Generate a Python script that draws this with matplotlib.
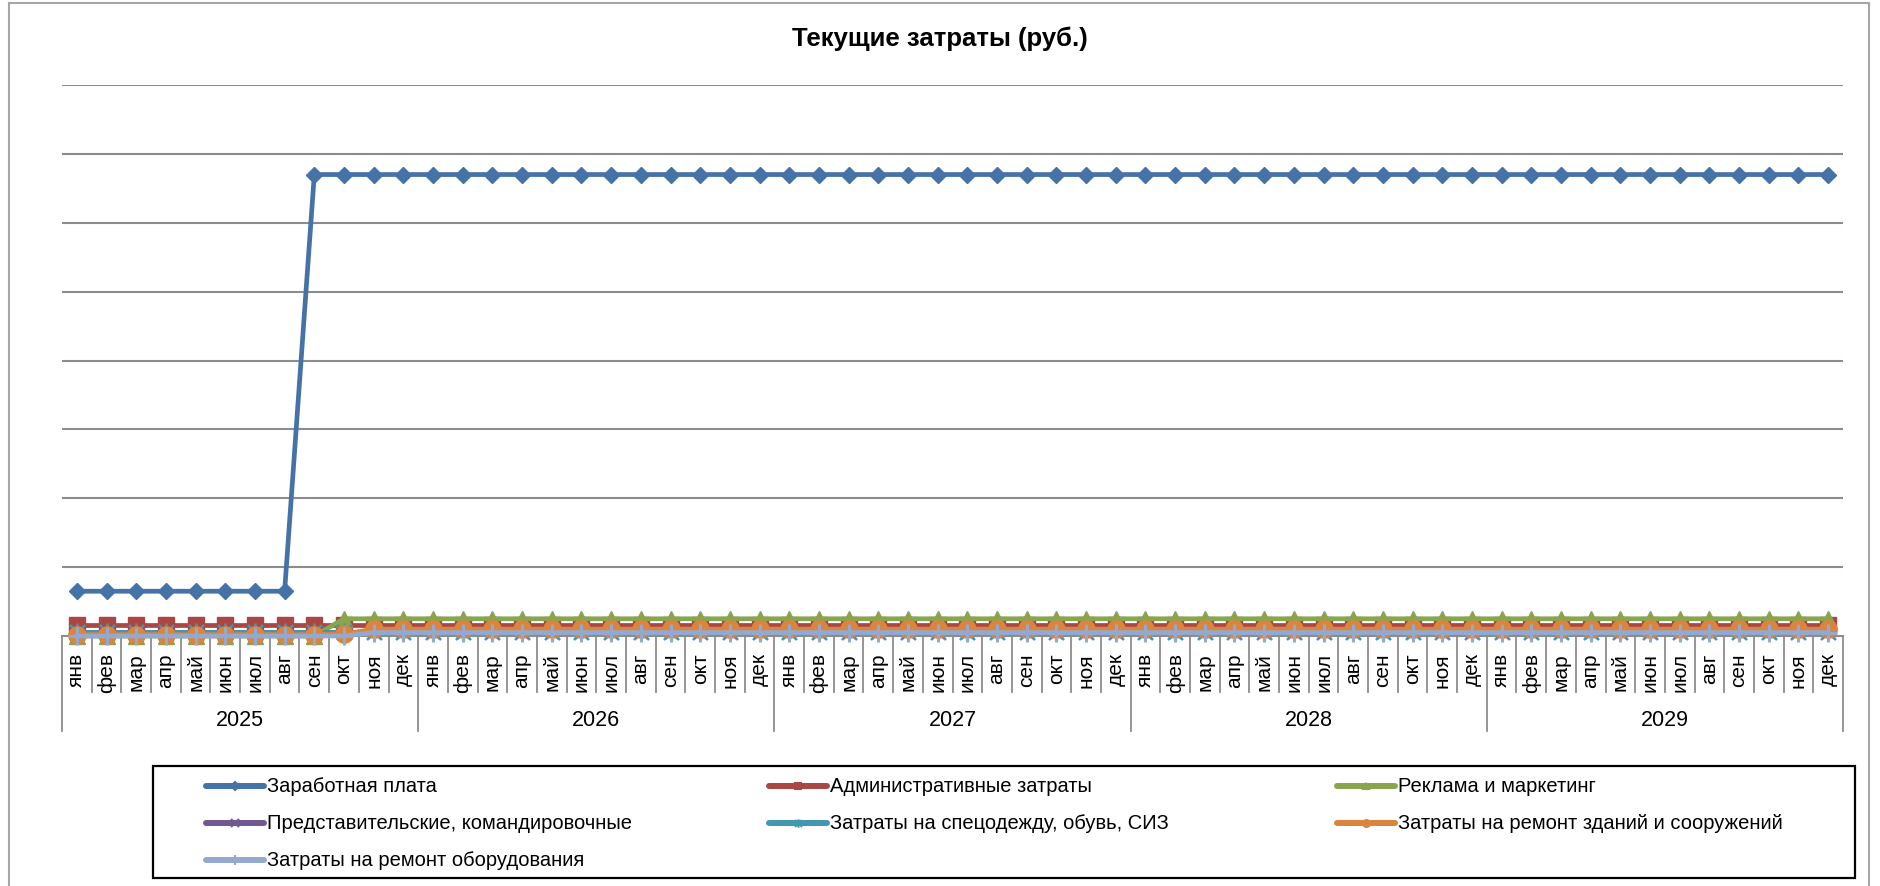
import numpy as np
import matplotlib
matplotlib.use("Agg")
import matplotlib.pyplot as plt
from matplotlib.path import Path
from matplotlib.lines import Line2D
from matplotlib.patches import Rectangle
from matplotlib.transforms import blended_transform_factory

plt.rcParams['font.family'] = ['Liberation Sans', 'DejaVu Sans']

# ---------------- data ----------------
years = ['2025', '2026', '2027', '2028', '2029']
months = ['янв', 'фев', 'мар', 'апр', 'май', 'июн', 'июл', 'авг', 'сен', 'окт', 'ноя', 'дек']

salary = [65000] * 8 + [670000] * 52
admin = [16000] * 60
marketing = [0] * 9 + [25000] * 51
travel = [5500] * 60
workwear = [5500] * 60
repair_buildings = [2000] * 9 + [3000] + [10000] * 50
repair_equipment = [0] * 10 + [5000] * 50

series_names = ['Заработная плата', 'Административные затраты', 'Реклама и маркетинг',
                'Представительские, командировочные', 'Затраты на спецодежду, обувь, СИЗ',
                'Затраты на ремонт зданий и сооружений', 'Затраты на ремонт оборудования']

# ---------------- styles ----------------
star = Path([(-0.5, -0.5), (0.5, 0.5), (-0.5, 0.5), (0.5, -0.5), (0, -0.6), (0, 0.6)],
            [Path.MOVETO, Path.LINETO, Path.MOVETO, Path.LINETO, Path.MOVETO, Path.LINETO])
colors = ['#4572A7', '#AA4643', '#89A54E', '#71588F', '#4198AF', '#DB843D', '#93A9CF']
markers = ['D', 's', '^', 'x', star, 'o', '+']
msizes = [8, 11, 11, 9, 13, 12.5, 13]
mews = [1, 1, 1, 2, 1.8, 1, 2.2]

W, H = 1880, 887
fig = plt.figure(figsize=(W / 100, H / 100), dpi=100)

# outer chart frame
fig.add_artist(Rectangle((9 / W, -0.05), (1869 - 9) / W, 1.05 - 4 / H,
                         transform=fig.transFigure, fill=False, edgecolor='#a6a6a6', lw=1.5))

ax_l, ax_r, ax_t, ax_b = 62, 1843, 86, 637
ax = fig.add_axes([ax_l / W, 1 - ax_b / H, (ax_r - ax_l) / W, (ax_b - ax_t) / H])
ax_h = ax_b - ax_t

n = len(salary)
x = np.arange(n)
data = [salary, admin, marketing, travel, workwear, repair_buildings, repair_equipment]
for i, (vals, c, m, ms, mew) in enumerate(zip(data, colors, markers, msizes, mews)):
    ax.plot(x, vals, color=c, lw=3.4, marker=m, markersize=ms, markeredgewidth=mew,
            markerfacecolor=c, markeredgecolor=c, zorder=3 + i, clip_on=False,
            solid_joinstyle='round')

ax.set_xlim(-0.5, n - 0.5)
ax.set_ylim(0, 800000)
ax.set_yticks(np.arange(100000, 800001, 100000))
ax.yaxis.grid(True, color='#8c8c8c', lw=1.5)
ax.set_axisbelow(True)
ax.tick_params(left=False, labelleft=False, bottom=False, labelbottom=False)
for s in ['left', 'right', 'top']:
    ax.spines[s].set_visible(False)
ax.spines['bottom'].set_color('#8c8c8c')
ax.spines['bottom'].set_linewidth(1.5)

tr = blended_transform_factory(ax.transData, ax.transAxes)
month_sep = 56 / ax_h
year_sep = 95 / ax_h
for k in range(n + 1):
    xs = k - 0.5
    ln = year_sep if k % 12 == 0 else month_sep
    ax.add_line(Line2D([xs, xs], [0, -ln], transform=tr, color='#8c8c8c', lw=1.3, clip_on=False))

for k in range(n):
    ax.text(k, -16 / ax_h, months[k % 12], transform=tr, rotation=90, ha='center', va='top',
            fontsize=15, color='black')
for j, yr in enumerate(years):
    ax.text(12 * j + 5.5, -(721 - ax_b) / ax_h, yr, transform=tr, ha='center', va='center',
            fontsize=15.5, color='black')

fig.text(940 / W, 1 - 39 / H, 'Текущие затраты (руб.)', ha='center', va='center',
         fontsize=18.5, fontweight='bold')

# legend box
lg_l, lg_r, lg_t, lg_b = 153, 1855, 767, 879
fig.add_artist(Rectangle((lg_l / W, 1 - lg_b / H), (lg_r - lg_l) / W, (lg_b - lg_t) / H,
                         transform=fig.transFigure, fill=False, edgecolor='black', lw=1.6))
col_x = [206, 769, 1337]
row_y = [787, 824, 861]
leg_ms = [4, 5, 5, 6, 6, 5, 7]
for i, name in enumerate(series_names):
    r, cidx = divmod(i, 3)
    x0 = col_x[cidx]
    y0 = 1 - row_y[r] / H
    fig.add_artist(Line2D([x0 / W, (x0 + 58) / W], [y0, y0], transform=fig.transFigure,
                          color=colors[i], lw=4.3, solid_capstyle='round'))
    fig.add_artist(Line2D([(x0 + 29) / W], [y0], transform=fig.transFigure,
                          color=colors[i], marker=markers[i], markersize=leg_ms[i],
                          markeredgewidth=1.5, lw=0))
    fig.text((x0 + 61) / W, y0, name, ha='left', va='center', fontsize=14.5, color='black')

fig.savefig('out.png', dpi=100)
